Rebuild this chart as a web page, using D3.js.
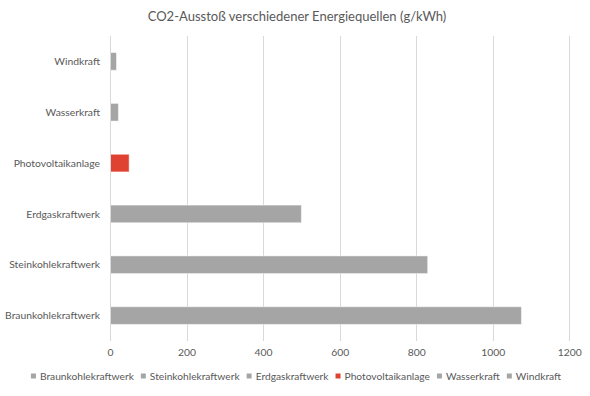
<!DOCTYPE html>
<html>
<head>
<meta charset="utf-8">
<script src="https://cdn.jsdelivr.net/npm/d3@7"></script>
<style>
html,body{margin:0;padding:0;background:#fff;}
svg{display:block;font-family:Lato,sans-serif;}
</style>
</head>
<body>
<svg id="chart" width="590" height="396"></svg>
<script>
const title = "CO2-Ausstoß verschiedener Energiequellen (g/kWh)";
const categories = ["Braunkohlekraftwerk","Steinkohlekraftwerk","Erdgaskraftwerk","Photovoltaikanlage","Wasserkraft","Windkraft"];
const values = [1075, 830, 500, 50, 22, 17];
const barColors = ["#a5a5a5","#a5a5a5","#a5a5a5","#e04232","#a5a5a5","#a5a5a5"];
const xTicks = [0,200,400,600,800,1000,1200];

const svg = d3.select("#chart");
const m = {top:36, bottom:341};
const x = d3.scaleLinear().domain([0,1200]).range([110, 569.3]);
const y = d3.scaleBand().domain(categories.slice().reverse()).range([m.top, m.bottom]).paddingInner(0.652).paddingOuter(0.326);

const textColor = "#595959";

// helper: font size so a text spans a given width
function fitSize(str, target, base){
  const t = svg.append("text").style("font-size", base+"px").text(str);
  const w = t.node().getComputedTextLength();
  t.remove();
  return base * target / w;
}
const fs = fitSize("Braunkohlekraftwerk", 95, 11);
const legFs = fitSize("Braunkohlekraftwerk", 94, 11);
const titleFs = fitSize(title, 299, 16);

// title
svg.append("text").attr("x", 297).attr("y", 20.5).attr("text-anchor","middle")
  .attr("fill", textColor).style("font-size", titleFs+"px").text(title);

// gridlines
svg.append("g").selectAll("line").data(xTicks.slice(1)).join("line")
  .attr("x1", d=>Math.round(x(d))+0.5).attr("x2", d=>Math.round(x(d))+0.5)
  .attr("y1", m.top).attr("y2", m.bottom)
  .attr("stroke","#d9d9d9").attr("stroke-width",1);

// bars
svg.append("g").selectAll("rect").data(categories).join("rect")
  .attr("x", x(0)).attr("y", d=>y(d))
  .attr("width", (d,i)=>x(values[i])-x(0)).attr("height", y.bandwidth())
  .attr("fill", (d,i)=>barColors[i])
  .attr("stroke","#ffffff").attr("stroke-opacity",0.5).attr("stroke-width",1);

// vertical axis line
svg.append("line").attr("x1", Math.round(x(0))+0.5).attr("x2", Math.round(x(0))+0.5)
  .attr("y1", m.top).attr("y2", m.bottom).attr("stroke","#d9d9d9");

// category labels
svg.append("g").selectAll("text").data(categories).join("text")
  .attr("x", 100).attr("y", d=>y(d)+y.bandwidth()/2).attr("dy","0.35em")
  .attr("text-anchor","end").attr("fill", textColor).style("font-size", fs+"px")
  .text(d=>d);

// x tick labels
const xAxis = d3.axisBottom(x).tickValues(xTicks).tickSize(0).tickPadding(0).tickFormat(d3.format("d"));
const gx = svg.append("g").attr("transform","translate(0,349)").call(xAxis);
gx.select(".domain").remove();
gx.selectAll("text").attr("fill", textColor).style("font-size", fs+"px").style("font-family","Lato,sans-serif");

// legend
const legend = svg.append("g");
let lx = 0;
const ly = 376;
categories.forEach((c,i)=>{
  const g = legend.append("g");
  g.append("rect").attr("x", lx).attr("y", ly-2.5).attr("width",5).attr("height",5).attr("fill", barColors[i]);
  const t = g.append("text").attr("x", lx+9).attr("y", ly).attr("dy","0.35em")
    .attr("fill", textColor).style("font-size", legFs+"px").text(c);
  const w = t.node().getComputedTextLength();
  lx += 9 + w + 7;
});
const totalW = lx - 7;
legend.attr("transform", `translate(${(590 - totalW)/2 + 1},0)`);
</script>
</body>
</html>
